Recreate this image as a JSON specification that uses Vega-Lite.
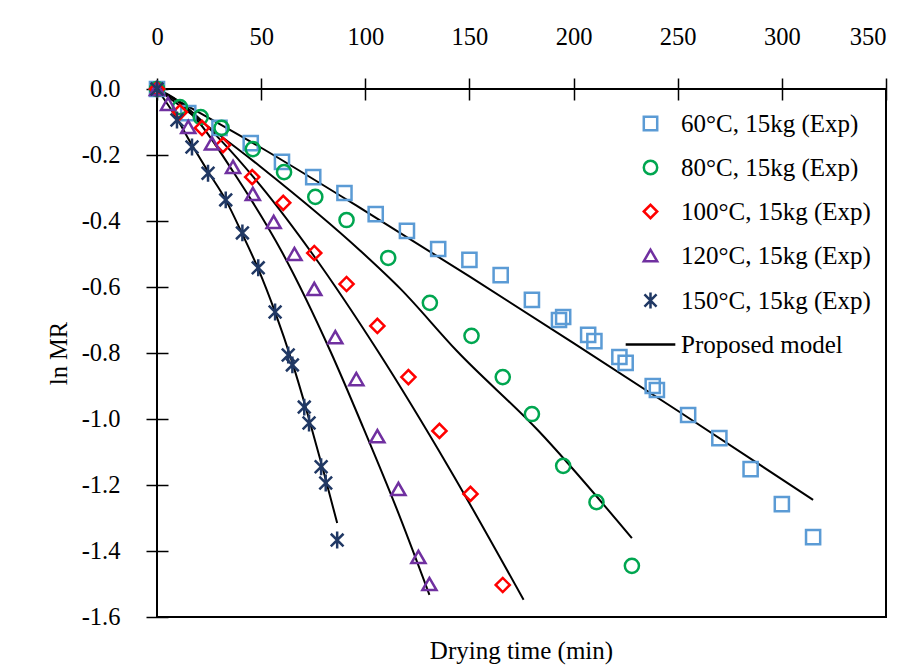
{
  "$schema": "https://vega.github.io/schema/vega-lite/v6.json",
  "width": 729,
  "height": 528,
  "autosize": {"type": "none"},
  "padding": {"left": 157, "top": 89, "right": 30, "bottom": 55},
  "background": "white",
  "config": {
    "font": "Liberation Serif",
    "view": {"stroke": "black", "strokeWidth": 2},
    "axis": {
      "domain": false,
      "grid": false,
      "labelFont": "Liberation Serif",
      "labelFontSize": 24.5,
      "labelColor": "black",
      "tickColor": "black",
      "tickWidth": 1.5,
      "titleFont": "Liberation Serif",
      "titleFontSize": 24.5,
      "titleFontWeight": "normal",
      "titleColor": "black"
    }
  },
  "title": {
    "text": "Drying time (min)",
    "orient": "bottom",
    "anchor": "middle",
    "frame": "group",
    "font": "Liberation Serif",
    "fontSize": 25,
    "fontWeight": "normal",
    "color": "black",
    "offset": 10
  },
  "datasets": {
    "model": [
      {"temp": "60", "t": 0, "lnMR": 0},
      {"temp": "60", "t": 50, "lnMR": -0.178},
      {"temp": "60", "t": 100, "lnMR": -0.37},
      {"temp": "60", "t": 150, "lnMR": -0.568},
      {"temp": "60", "t": 200, "lnMR": -0.77},
      {"temp": "60", "t": 250, "lnMR": -0.975},
      {"temp": "60", "t": 315, "lnMR": -1.245},
      {"temp": "80", "t": 0, "lnMR": 0},
      {"temp": "80", "t": 50, "lnMR": -0.237},
      {"temp": "80", "t": 97.6, "lnMR": -0.49},
      {"temp": "80", "t": 116.8, "lnMR": -0.605},
      {"temp": "80", "t": 144, "lnMR": -0.794},
      {"temp": "80", "t": 183, "lnMR": -1.035},
      {"temp": "80", "t": 228, "lnMR": -1.361},
      {"temp": "100", "t": 0, "lnMR": 0},
      {"temp": "100", "t": 15, "lnMR": -0.06},
      {"temp": "100", "t": 30, "lnMR": -0.151},
      {"temp": "100", "t": 50, "lnMR": -0.295},
      {"temp": "100", "t": 75, "lnMR": -0.503},
      {"temp": "100", "t": 106, "lnMR": -0.794},
      {"temp": "100", "t": 140, "lnMR": -1.146},
      {"temp": "100", "t": 176, "lnMR": -1.548},
      {"temp": "120", "t": 0, "lnMR": 0},
      {"temp": "120", "t": 10, "lnMR": -0.036},
      {"temp": "120", "t": 20, "lnMR": -0.1},
      {"temp": "120", "t": 36.5, "lnMR": -0.25},
      {"temp": "120", "t": 60, "lnMR": -0.494},
      {"temp": "120", "t": 83.2, "lnMR": -0.794},
      {"temp": "120", "t": 99, "lnMR": -1.026},
      {"temp": "120", "t": 115, "lnMR": -1.271},
      {"temp": "120", "t": 130.8, "lnMR": -1.533},
      {"temp": "150", "t": 0, "lnMR": 0},
      {"temp": "150", "t": 9.6, "lnMR": -0.09},
      {"temp": "150", "t": 16.8, "lnMR": -0.17},
      {"temp": "150", "t": 24.5, "lnMR": -0.25},
      {"temp": "150", "t": 33, "lnMR": -0.336},
      {"temp": "150", "t": 41, "lnMR": -0.44},
      {"temp": "150", "t": 48.6, "lnMR": -0.545},
      {"temp": "150", "t": 56.7, "lnMR": -0.676},
      {"temp": "150", "t": 65, "lnMR": -0.83},
      {"temp": "150", "t": 73, "lnMR": -1.0},
      {"temp": "150", "t": 80, "lnMR": -1.16},
      {"temp": "150", "t": 86.5, "lnMR": -1.315}
    ],
    "exp": [
      {"series": "60°C, 15kg (Exp)", "t": 0, "lnMR": 0},
      {"series": "60°C, 15kg (Exp)", "t": 15, "lnMR": -0.073},
      {"series": "60°C, 15kg (Exp)", "t": 30, "lnMR": -0.118},
      {"series": "60°C, 15kg (Exp)", "t": 45, "lnMR": -0.164},
      {"series": "60°C, 15kg (Exp)", "t": 60, "lnMR": -0.221},
      {"series": "60°C, 15kg (Exp)", "t": 75, "lnMR": -0.267},
      {"series": "60°C, 15kg (Exp)", "t": 90, "lnMR": -0.315},
      {"series": "60°C, 15kg (Exp)", "t": 105, "lnMR": -0.379},
      {"series": "60°C, 15kg (Exp)", "t": 120, "lnMR": -0.43},
      {"series": "60°C, 15kg (Exp)", "t": 135, "lnMR": -0.485},
      {"series": "60°C, 15kg (Exp)", "t": 150, "lnMR": -0.518},
      {"series": "60°C, 15kg (Exp)", "t": 165, "lnMR": -0.564},
      {"series": "60°C, 15kg (Exp)", "t": 180, "lnMR": -0.639},
      {"series": "60°C, 15kg (Exp)", "t": 193, "lnMR": -0.7},
      {"series": "60°C, 15kg (Exp)", "t": 195, "lnMR": -0.691},
      {"series": "60°C, 15kg (Exp)", "t": 207, "lnMR": -0.745},
      {"series": "60°C, 15kg (Exp)", "t": 210, "lnMR": -0.764},
      {"series": "60°C, 15kg (Exp)", "t": 222, "lnMR": -0.812},
      {"series": "60°C, 15kg (Exp)", "t": 225, "lnMR": -0.83},
      {"series": "60°C, 15kg (Exp)", "t": 238, "lnMR": -0.9},
      {"series": "60°C, 15kg (Exp)", "t": 240, "lnMR": -0.912},
      {"series": "60°C, 15kg (Exp)", "t": 255, "lnMR": -0.988},
      {"series": "60°C, 15kg (Exp)", "t": 270, "lnMR": -1.058},
      {"series": "60°C, 15kg (Exp)", "t": 285, "lnMR": -1.152},
      {"series": "60°C, 15kg (Exp)", "t": 300, "lnMR": -1.258},
      {"series": "60°C, 15kg (Exp)", "t": 315, "lnMR": -1.358},
      {"series": "80°C, 15kg (Exp)", "t": 0, "lnMR": 0},
      {"series": "80°C, 15kg (Exp)", "t": 11, "lnMR": -0.055},
      {"series": "80°C, 15kg (Exp)", "t": 21, "lnMR": -0.085},
      {"series": "80°C, 15kg (Exp)", "t": 31, "lnMR": -0.118},
      {"series": "80°C, 15kg (Exp)", "t": 46, "lnMR": -0.182},
      {"series": "80°C, 15kg (Exp)", "t": 61, "lnMR": -0.252},
      {"series": "80°C, 15kg (Exp)", "t": 76, "lnMR": -0.327},
      {"series": "80°C, 15kg (Exp)", "t": 91, "lnMR": -0.397},
      {"series": "80°C, 15kg (Exp)", "t": 111, "lnMR": -0.512},
      {"series": "80°C, 15kg (Exp)", "t": 131, "lnMR": -0.648},
      {"series": "80°C, 15kg (Exp)", "t": 151, "lnMR": -0.748},
      {"series": "80°C, 15kg (Exp)", "t": 166, "lnMR": -0.873},
      {"series": "80°C, 15kg (Exp)", "t": 180, "lnMR": -0.985},
      {"series": "80°C, 15kg (Exp)", "t": 195, "lnMR": -1.142},
      {"series": "80°C, 15kg (Exp)", "t": 211, "lnMR": -1.252},
      {"series": "80°C, 15kg (Exp)", "t": 228, "lnMR": -1.445},
      {"series": "100°C, 15kg (Exp)", "t": 0, "lnMR": 0},
      {"series": "100°C, 15kg (Exp)", "t": 11, "lnMR": -0.07},
      {"series": "100°C, 15kg (Exp)", "t": 21.6, "lnMR": -0.118},
      {"series": "100°C, 15kg (Exp)", "t": 31.7, "lnMR": -0.17},
      {"series": "100°C, 15kg (Exp)", "t": 45.7, "lnMR": -0.267},
      {"series": "100°C, 15kg (Exp)", "t": 60.6, "lnMR": -0.345},
      {"series": "100°C, 15kg (Exp)", "t": 75.5, "lnMR": -0.497},
      {"series": "100°C, 15kg (Exp)", "t": 91, "lnMR": -0.591},
      {"series": "100°C, 15kg (Exp)", "t": 105.8, "lnMR": -0.718},
      {"series": "100°C, 15kg (Exp)", "t": 120.7, "lnMR": -0.873},
      {"series": "100°C, 15kg (Exp)", "t": 135.6, "lnMR": -1.036},
      {"series": "100°C, 15kg (Exp)", "t": 150.5, "lnMR": -1.227},
      {"series": "100°C, 15kg (Exp)", "t": 166, "lnMR": -1.503},
      {"series": "120°C, 15kg (Exp)", "t": 0, "lnMR": 0},
      {"series": "120°C, 15kg (Exp)", "t": 5.3, "lnMR": -0.045},
      {"series": "120°C, 15kg (Exp)", "t": 15, "lnMR": -0.115},
      {"series": "120°C, 15kg (Exp)", "t": 26.4, "lnMR": -0.165},
      {"series": "120°C, 15kg (Exp)", "t": 36.5, "lnMR": -0.236},
      {"series": "120°C, 15kg (Exp)", "t": 46, "lnMR": -0.318},
      {"series": "120°C, 15kg (Exp)", "t": 56, "lnMR": -0.403},
      {"series": "120°C, 15kg (Exp)", "t": 66, "lnMR": -0.5},
      {"series": "120°C, 15kg (Exp)", "t": 75.5, "lnMR": -0.606},
      {"series": "120°C, 15kg (Exp)", "t": 85.6, "lnMR": -0.752},
      {"series": "120°C, 15kg (Exp)", "t": 95.7, "lnMR": -0.879},
      {"series": "120°C, 15kg (Exp)", "t": 105.8, "lnMR": -1.052},
      {"series": "120°C, 15kg (Exp)", "t": 115.9, "lnMR": -1.212},
      {"series": "120°C, 15kg (Exp)", "t": 125.5, "lnMR": -1.418},
      {"series": "120°C, 15kg (Exp)", "t": 130.8, "lnMR": -1.5},
      {"series": "150°C, 15kg (Exp)", "t": 0, "lnMR": 0},
      {"series": "150°C, 15kg (Exp)", "t": 9.6, "lnMR": -0.094},
      {"series": "150°C, 15kg (Exp)", "t": 16.8, "lnMR": -0.176},
      {"series": "150°C, 15kg (Exp)", "t": 24.5, "lnMR": -0.255},
      {"series": "150°C, 15kg (Exp)", "t": 33, "lnMR": -0.336},
      {"series": "150°C, 15kg (Exp)", "t": 41, "lnMR": -0.436},
      {"series": "150°C, 15kg (Exp)", "t": 48.6, "lnMR": -0.542},
      {"series": "150°C, 15kg (Exp)", "t": 56.7, "lnMR": -0.676},
      {"series": "150°C, 15kg (Exp)", "t": 63, "lnMR": -0.806},
      {"series": "150°C, 15kg (Exp)", "t": 65, "lnMR": -0.836},
      {"series": "150°C, 15kg (Exp)", "t": 70.7, "lnMR": -0.964},
      {"series": "150°C, 15kg (Exp)", "t": 73, "lnMR": -1.012},
      {"series": "150°C, 15kg (Exp)", "t": 78.8, "lnMR": -1.145},
      {"series": "150°C, 15kg (Exp)", "t": 81, "lnMR": -1.194},
      {"series": "150°C, 15kg (Exp)", "t": 86.5, "lnMR": -1.367}
    ]
  },
  "layer": [
    {
      "data": {"name": "model"},
      "mark": {"type": "line", "color": "black", "strokeWidth": 2, "interpolate": "monotone"},
      "encoding": {
        "x": {
          "field": "t",
          "type": "quantitative",
          "scale": {"domain": [0, 350], "nice": false, "zero": false},
          "axis": {
            "orient": "top",
            "title": null,
            "values": [0, 50, 100, 150, 200, 250, 300, 350],
            "offset": -11,
            "tickSize": 22,
            "labelPadding": 34,
            "labelBaseline": "alphabetic",
            "labelAlign": {"condition": {"test": "datum.value == 350", "value": "right"}, "value": "center"},
            "labelFlush": false,
            "labelOverlap": false
          }
        },
        "y": {
          "field": "lnMR",
          "type": "quantitative",
          "scale": {"domain": [-1.6, 0], "nice": false, "zero": false},
          "axis": {
            "orient": "left",
            "title": "ln MR",
            "values": [0, -0.2, -0.4, -0.6, -0.8, -1, -1.2, -1.4, -1.6],
            "offset": -11,
            "tickSize": 22,
            "labelPadding": 26,
            "labelFlush": false,
            "labelOverlap": false,
            "titlePadding": 10,
            "labelExpr": "datum.value < 0 ? '-' + format(-datum.value, '.1f') : format(0, '.1f')"
          }
        },
        "detail": {"field": "temp"}
      }
    },
    {
      "data": {"name": "exp"},
      "mark": {"type": "point", "filled": false, "strokeWidth": 2.5, "size": 200, "opacity": 1},
      "encoding": {
        "x": {"field": "t", "type": "quantitative"},
        "y": {"field": "lnMR", "type": "quantitative"},
        "shape": {
          "field": "series",
          "type": "nominal",
          "scale": {
            "domain": ["60°C, 15kg (Exp)", "80°C, 15kg (Exp)", "100°C, 15kg (Exp)", "120°C, 15kg (Exp)", "150°C, 15kg (Exp)", "Proposed model"],
            "range": ["square", "circle", "diamond", "triangle-up", "M-0.9,-0.9L0.9,0.9M-0.9,0.9L0.9,-0.9M0,-1.2V1.2", "M-3.7,0H3.7"]
          },
          "legend": {
            "title": null,
            "orient": "none",
            "legendX": 481,
            "legendY": 22,
            "padding": 0,
            "labelFont": "Liberation Serif",
            "labelFontSize": 25,
            "labelColor": "black",
            "labelLimit": 400,
            "labelOffset": 18,
            "rowPadding": 18,
            "symbolSize": 180,
            "symbolStrokeWidth": 2.5
          }
        },
        "color": {
          "field": "series",
          "type": "nominal",
          "scale": {
            "domain": ["60°C, 15kg (Exp)", "80°C, 15kg (Exp)", "100°C, 15kg (Exp)", "120°C, 15kg (Exp)", "150°C, 15kg (Exp)", "Proposed model"],
            "range": ["#5B9BD5", "#00A650", "#FF0000", "#7030A0", "#203864", "#000000"]
          }
        }
      }
    }
  ]
}
